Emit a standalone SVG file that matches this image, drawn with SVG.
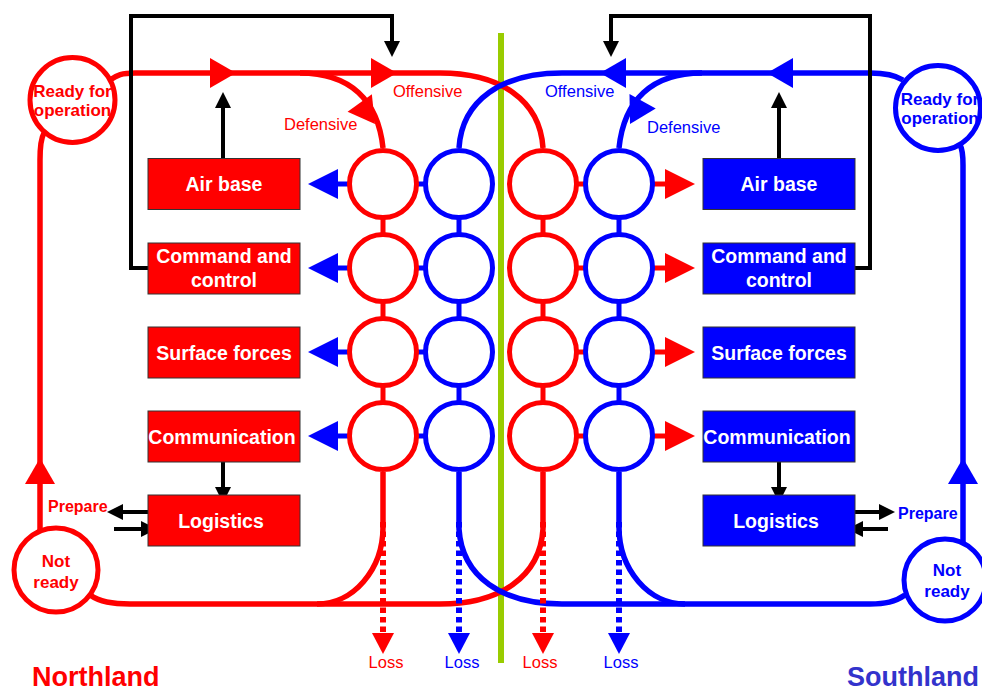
<svg xmlns="http://www.w3.org/2000/svg" width="982" height="691" viewBox="0 0 982 691">
<style>
.box{stroke:#333;stroke-width:1}
.rf{fill:#FF0000}
.bf{fill:#0000FF}
.kf{fill:#000}
.bt{font-family:"Liberation Sans",Arial,sans-serif;font-weight:bold;font-size:19.5px;fill:#fff;text-anchor:middle}
.cl{fill:none;stroke-width:5}
.r{stroke:#FF0000}
.b{stroke:#0000FF}
.ln{fill:none;stroke-width:5.5}
.cn{fill:none;stroke-width:5}
.dt{fill:none;stroke-width:6;stroke-dasharray:5.5 4}
.k{fill:none;stroke:#000;stroke-width:4}
.t{font-family:"Liberation Sans",Arial,sans-serif}
.sl{font-size:17px;font-weight:bold;text-anchor:middle}
.lb{font-size:16.5px}
.pr{font-size:16px;font-weight:bold}
.ttl{font-size:27px;font-weight:bold}
.red{fill:#FF0000}
.blu{fill:#0000FF}
</style>
<defs>
<polygon id="ta" points="0,0 -26,-15 -26,15"/>
<polygon id="tr" points="0,0 -30,-15 -30,15"/>
<polygon id="tl" points="0,0 -21,-11 -21,11"/>
<polygon id="tk" points="0,0 -16,-8 -16,8"/>
</defs>

<line x1="501" y1="33" x2="501" y2="663" stroke="#99CC00" stroke-width="6"/>

<g id="connectors">
  <!-- red main loop -->
  <path class="ln r" d="M 110 80 C 117 75 122 73 135 73 L 440 73 C 500 73 540 100 543 148"/>
  <path class="ln r" d="M 300 73 C 350 73 378 100 383 148"/>
  <path class="ln r" d="M 44 133 Q 40 140 40 160 L 40 531"/>
  <path class="ln r" d="M 90 595 C 100 602 112 604 130 604 L 440 604 C 500 604 540 577 543 529 L 543 472"/>
  <path class="ln r" d="M 317 604 A 66 77 0 0 0 383 527 L 383 472"/>
  <!-- blue main loop -->
  <path class="ln b" d="M 903 80 C 895 75 885 73 870 73 L 562 73 C 502 73 462 100 459 148"/>
  <path class="ln b" d="M 702 73 C 652 73 624 100 619 148"/>
  <path class="ln b" d="M 960 145 Q 963 150 963 165 L 963 543"/>
  <path class="ln b" d="M 905 595 C 895 602 885 604 870 604 L 562 604 C 502 604 462 577 459 529 L 459 472"/>
  <path class="ln b" d="M 685 604 A 66 77 0 0 1 619 527 L 619 472"/>

  <!-- main arrowheads -->
  <use href="#ta" class="rf" transform="translate(236,73)"/>
  <use href="#ta" class="rf" transform="translate(397,73)"/>
  <use href="#ta" class="bf" transform="translate(600,73) rotate(180)"/>
  <use href="#ta" class="bf" transform="translate(767,73) rotate(180)"/>
  <use href="#ta" class="rf" transform="translate(375,124) rotate(54)"/>
  <use href="#ta" class="bf" transform="translate(630,124) rotate(119)"/>
  <use href="#ta" class="rf" transform="translate(40,458) rotate(-90)"/>
  <use href="#ta" class="bf" transform="translate(963,458) rotate(-90)"/>

  <!-- column connectors -->
  <path class="cn r" d="M 383 217.5 V 234.5 M 383 301.5 V 318.5 M 383 385.5 V 402.5 M 543 217.5 V 234.5 M 543 301.5 V 318.5 M 543 385.5 V 402.5"/>
  <path class="cn b" d="M 459 217.5 V 234.5 M 459 301.5 V 318.5 M 459 385.5 V 402.5 M 619 217.5 V 234.5 M 619 301.5 V 318.5 M 619 385.5 V 402.5"/>
  <path class="cn b" d="M 415 184 H 427 M 415 268 H 427 M 415 352 H 427 M 415 436 H 427"/>
  <path class="cn r" d="M 575 184 H 587 M 575 268 H 587 M 575 352 H 587 M 575 436 H 587"/>

  <!-- row arrows -->
  <path class="cn b" d="M 350 184 H 335 M 350 268 H 335 M 350 352 H 335 M 350 436 H 335"/>
  <use href="#tr" class="bf" transform="translate(308,184) rotate(180)"/>
  <use href="#tr" class="bf" transform="translate(308,268) rotate(180)"/>
  <use href="#tr" class="bf" transform="translate(308,352) rotate(180)"/>
  <use href="#tr" class="bf" transform="translate(308,436) rotate(180)"/>
  <path class="cn r" d="M 652 184 H 668 M 652 268 H 668 M 652 352 H 668 M 652 436 H 668"/>
  <use href="#tr" class="rf" transform="translate(695,184)"/>
  <use href="#tr" class="rf" transform="translate(695,268)"/>
  <use href="#tr" class="rf" transform="translate(695,352)"/>
  <use href="#tr" class="rf" transform="translate(695,436)"/>

  <!-- loss -->
  <path class="dt r" d="M 383 522 V 634 M 543 522 V 634"/>
  <path class="dt b" d="M 459 522 V 634 M 619 522 V 634"/>
  <use href="#tl" class="rf" transform="translate(383,654) rotate(90)"/>
  <use href="#tl" class="bf" transform="translate(459,654) rotate(90)"/>
  <use href="#tl" class="rf" transform="translate(543,654) rotate(90)"/>
  <use href="#tl" class="bf" transform="translate(619,654) rotate(90)"/>

  <!-- black arrows -->
  <path class="k" d="M 148 268 H 131 V 16 H 392 V 43"/>
  <path class="k" d="M 855 268 H 870 V 16 H 611 V 43"/>
  <use href="#tk" class="kf" transform="translate(392,57) rotate(90)"/>
  <use href="#tk" class="kf" transform="translate(611,57) rotate(90)"/>
  <path class="k" d="M 223 158 V 106 M 779 158 V 106"/>
  <use href="#tk" class="kf" transform="translate(223,92) rotate(-90)"/>
  <use href="#tk" class="kf" transform="translate(779,92) rotate(-90)"/>
  <path class="k" d="M 223 462 V 489 M 779 462 V 489"/>
  <use href="#tk" class="kf" transform="translate(223,503) rotate(90)"/>
  <use href="#tk" class="kf" transform="translate(779,503) rotate(90)"/>
  <path class="k" d="M 148 512 H 121 M 114 529 H 143"/>
  <use href="#tk" class="kf" transform="translate(107,512) rotate(180)"/>
  <use href="#tk" class="kf" transform="translate(157,529)"/>
  <path class="k" d="M 855 512 H 881 M 888 529 H 861"/>
  <use href="#tk" class="kf" transform="translate(895,512)"/>
  <use href="#tk" class="kf" transform="translate(847,529) rotate(180)"/>
</g>

<!-- combat circles -->
<g id="red-col-1"><circle class="cl r" cx="383" cy="184" r="33.5"/><circle class="cl r" cx="383" cy="268" r="33.5"/><circle class="cl r" cx="383" cy="352" r="33.5"/><circle class="cl r" cx="383" cy="436" r="33.5"/></g>
<g id="blue-col-1"><circle class="cl b" cx="459" cy="184" r="33.5"/><circle class="cl b" cx="459" cy="268" r="33.5"/><circle class="cl b" cx="459" cy="352" r="33.5"/><circle class="cl b" cx="459" cy="436" r="33.5"/></g>
<g id="red-col-2"><circle class="cl r" cx="543" cy="184" r="33.5"/><circle class="cl r" cx="543" cy="268" r="33.5"/><circle class="cl r" cx="543" cy="352" r="33.5"/><circle class="cl r" cx="543" cy="436" r="33.5"/></g>
<g id="blue-col-2"><circle class="cl b" cx="619" cy="184" r="33.5"/><circle class="cl b" cx="619" cy="268" r="33.5"/><circle class="cl b" cx="619" cy="352" r="33.5"/><circle class="cl b" cx="619" cy="436" r="33.5"/></g>

<!-- state circles -->
<g id="n-ready">
  <circle class="cl r" cx="72.5" cy="100" r="42.5"/>
  <text class="t sl red" x="72.5" y="97">Ready for</text>
  <text class="t sl red" x="72.5" y="116">operation</text>
</g>
<g id="n-notready">
  <circle class="cl r" cx="56" cy="570" r="42"/>
  <text class="t sl red" x="56" y="567">Not</text>
  <text class="t sl red" x="56" y="588">ready</text>
</g>
<g id="s-ready">
  <circle class="cl b" cx="938" cy="108" r="42.5"/>
  <text class="t sl blu" x="940" y="105">Ready for</text>
  <text class="t sl blu" x="940" y="124">operation</text>
</g>
<g id="s-notready">
  <circle class="cl b" cx="945" cy="580" r="41"/>
  <text class="t sl blu" x="947" y="576">Not</text>
  <text class="t sl blu" x="947" y="597">ready</text>
</g>

<!-- boxes -->
<g id="n-airbase"><rect class="box rf" x="148" y="158.5" width="152" height="51"/><text class="bt" x="224" y="191">Air base</text></g>
<g id="n-c2"><rect class="box rf" x="148" y="243" width="152" height="51"/><text class="bt" x="224" y="263">Command and</text><text class="bt" x="224" y="287">control</text></g>
<g id="n-surface"><rect class="box rf" x="148" y="327" width="152" height="51"/><text class="bt" x="224" y="359.5">Surface forces</text></g>
<g id="n-comm"><rect class="box rf" x="148" y="411" width="152" height="51"/><text class="bt" x="222" y="443.5">Communication</text></g>
<g id="n-log"><rect class="box rf" x="148" y="495" width="152" height="51"/><text class="bt" x="221" y="528">Logistics</text></g>

<g id="s-airbase"><rect class="box bf" x="703" y="158.5" width="152" height="51"/><text class="bt" x="779" y="191">Air base</text></g>
<g id="s-c2"><rect class="box bf" x="703" y="243" width="152" height="51"/><text class="bt" x="779" y="263">Command and</text><text class="bt" x="779" y="287">control</text></g>
<g id="s-surface"><rect class="box bf" x="703" y="327" width="152" height="51"/><text class="bt" x="779" y="359.5">Surface forces</text></g>
<g id="s-comm"><rect class="box bf" x="703" y="411" width="152" height="51"/><text class="bt" x="777" y="443.5">Communication</text></g>
<g id="s-log"><rect class="box bf" x="703" y="495" width="152" height="51"/><text class="bt" x="776" y="528">Logistics</text></g>

<!-- labels -->
<g id="labels">
  <text class="t lb red" x="393" y="97">Offensive</text>
  <text class="t lb red" x="284" y="130">Defensive</text>
  <text class="t lb blu" x="545" y="97">Offensive</text>
  <text class="t lb blu" x="647" y="133">Defensive</text>
  <text class="t pr red" x="48" y="512">Prepare</text>
  <text class="t pr blu" x="898" y="519">Prepare</text>
  <text class="t lb red" x="386" y="668" text-anchor="middle">Loss</text>
  <text class="t lb blu" x="462" y="668" text-anchor="middle">Loss</text>
  <text class="t lb red" x="540" y="668" text-anchor="middle">Loss</text>
  <text class="t lb blu" x="621" y="668" text-anchor="middle">Loss</text>
  <text class="t ttl red" x="32" y="686">Northland</text>
  <text class="t ttl" x="847" y="686" fill="#3333CC">Southland</text>
</g>
</svg>
